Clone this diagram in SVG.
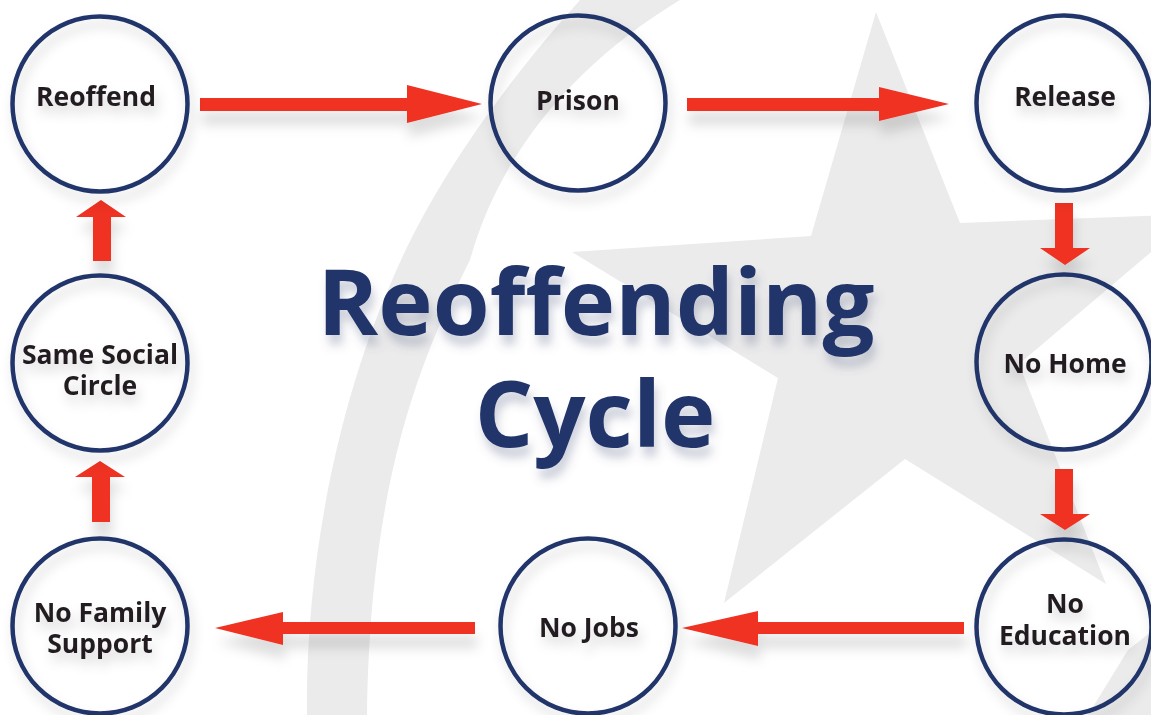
<svg xmlns="http://www.w3.org/2000/svg" width="1151" height="715" viewBox="0 0 1151 715">
  <defs>
    <filter id="shadow" x="-30%" y="-30%" width="160%" height="160%">
      <feGaussianBlur in="SourceAlpha" stdDeviation="6"/>
      <feOffset dx="3" dy="8" result="b"/>
      <feFlood flood-color="#000" flood-opacity="0.16"/>
      <feComposite in2="b" operator="in"/>
      <feMerge><feMergeNode/><feMergeNode in="SourceGraphic"/></feMerge>
    </filter>
    <filter id="arrowShadow" x="-20%" y="-60%" width="140%" height="260%">
      <feGaussianBlur in="SourceAlpha" stdDeviation="6"/>
      <feOffset dx="2" dy="14" result="b"/>
      <feFlood flood-color="#000" flood-opacity="0.13"/>
      <feComposite in2="b" operator="in"/>
      <feMerge><feMergeNode/><feMergeNode in="SourceGraphic"/></feMerge>
    </filter>
    <filter id="titleShadow" x="-10%" y="-20%" width="120%" height="150%">
      <feGaussianBlur in="SourceAlpha" stdDeviation="5"/>
      <feOffset dx="3" dy="10" result="b"/>
      <feFlood flood-color="#5a6488" flood-opacity="0.3"/>
      <feComposite in2="b" operator="in"/>
      <feMerge><feMergeNode/><feMergeNode in="SourceGraphic"/></feMerge>
    </filter>
  </defs>
  <style>
    .bg { fill: #ebebeb; }
    .ring { fill: none; stroke: #21366b; stroke-width: 4.5; }
    .lbl { font-family: "Open Sans", "Liberation Sans", sans-serif; font-weight: 700; font-size: 26.5px; fill: #231f20; text-anchor: middle; }
    .title { font-family: "Open Sans", "Liberation Sans", sans-serif; font-weight: 700; font-size: 92px; fill: #22356b; text-anchor: middle; }
    .arrow { fill: #ef3124; }
  </style>
  <rect width="1151" height="715" fill="#ffffff"/>
  <g id="background">
    <path class="bg" d="M307,715 C305,560 340,400 390,285 C425,200 490,100 580,0 L680,0 C580,60 500,150 470,260 C420,360 370,480 367,715 Z"/>
    <polygon class="bg" points="876,12 960,223 1196,214 1019,364 1106,584 905,459 724,603 778,378 572,252 811,236"/>
    <polygon class="bg" points="1088,715 1128,650 1151,632 1151,715"/>
  </g>
  <g id="title" filter="url(#titleShadow)">
    <text class="title" x="596" y="335">Reoffending</text>
    <text class="title" x="595" y="447">Cycle</text>
  </g>
  <g id="connectors" filter="url(#arrowShadow)">
    <polygon class="arrow" points="200,98 407,98 407,85 482,104 407,123 407,111 200,111"/>
    <polygon class="arrow" points="687,98 879,98 879,87 949,104 879,121 879,111 687,111"/>
    <polygon class="arrow" points="1055,203 1073,203 1073,248 1090,248 1065,265 1040,248 1055,248"/>
    <polygon class="arrow" points="1055,469 1073,469 1073,514 1090,514 1065,530 1040,514 1055,514"/>
    <polygon class="arrow" points="964,622 758,622 758,611 682,628 758,646 758,634 964,634"/>
    <polygon class="arrow" points="475,622 283,622 283,612 215,628 283,645 283,634 475,634"/>
    <polygon class="arrow" points="92,522 110,522 110,477 125,477 100,461 75,477 92,477"/>
    <polygon class="arrow" points="93,261 111,261 111,217 126,217 101,200 76,217 93,217"/>
  </g>
  <g id="node-reoffend" filter="url(#shadow)">
    <circle class="ring" cx="100" cy="104" r="87.5"/>
    <text class="lbl" x="96" y="106">Reoffend</text>
  </g>
  <g id="node-prison" filter="url(#shadow)">
    <circle class="ring" cx="578" cy="103" r="87.5"/>
    <text class="lbl" x="578" y="110">Prison</text>
  </g>
  <g id="node-release" filter="url(#shadow)">
    <circle class="ring" cx="1064" cy="103" r="87.5"/>
    <text class="lbl" x="1065" y="106">Release</text>
  </g>
  <g id="node-no-home" filter="url(#shadow)">
    <circle class="ring" cx="1064" cy="362" r="87.5"/>
    <text class="lbl" x="1065" y="373">No Home</text>
  </g>
  <g id="node-no-education" filter="url(#shadow)">
    <circle class="ring" cx="1064" cy="627" r="87.5"/>
    <text class="lbl" x="1065" y="613">No</text>
    <text class="lbl" x="1065" y="645">Education</text>
  </g>
  <g id="node-no-jobs" filter="url(#shadow)">
    <circle class="ring" cx="588" cy="626" r="87.5"/>
    <text class="lbl" x="589" y="637">No Jobs</text>
  </g>
  <g id="node-no-family-support" filter="url(#shadow)">
    <circle class="ring" cx="100" cy="626" r="87.5"/>
    <text class="lbl" x="100" y="622">No Family</text>
    <text class="lbl" x="100" y="653">Support</text>
  </g>
  <g id="node-same-social-circle" filter="url(#shadow)">
    <circle class="ring" cx="100" cy="363" r="87.5"/>
    <text class="lbl" x="100" y="364">Same Social</text>
    <text class="lbl" x="100" y="395">Circle</text>
  </g>
</svg>
